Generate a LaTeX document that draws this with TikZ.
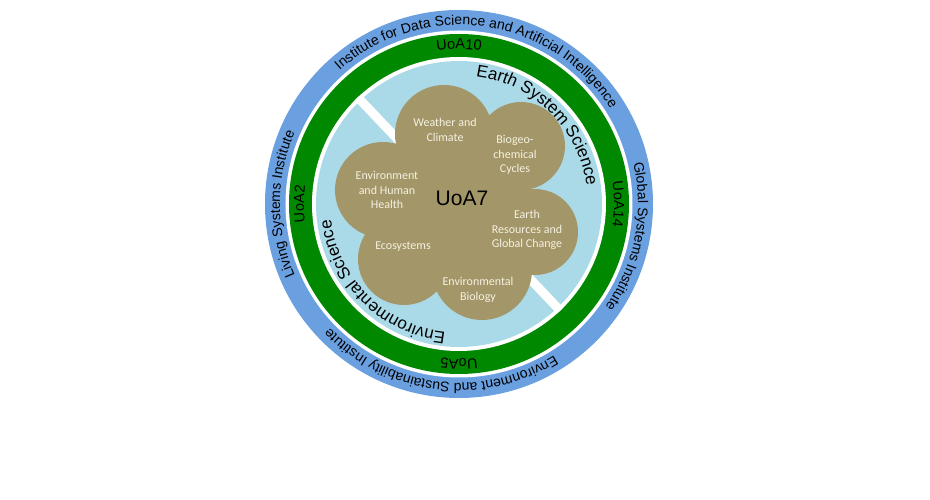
\documentclass[tikz,border=0pt]{standalone}
\usepackage{fontspec}
\newfontfamily\arialf{Liberation Sans}
\newfontfamily\carlf{Carlito}
\usetikzlibrary{decorations.text}
\definecolor{ringblue}{RGB}{106,160,224}
\definecolor{ringgreen}{RGB}{0,136,0}
\definecolor{lightbl}{RGB}{170,218,232}
\definecolor{cloudc}{RGB}{163,150,104}
\definecolor{creamc}{RGB}{245,241,226}
\newcommand\ringtext[4]{%
  \path[decorate,decoration={text along path,text align=center,
    text={|\arialf\fontsize{#3}{#3}\selectfont|#4}}]
    (#1+80:#2) arc[start angle=#1+80, end angle=#1-80, radius=#2];}
\begin{document}
\begin{tikzpicture}[x=1pt,y=1pt,
  topic/.style={text=creamc, font=\carlf\fontsize{12}{14.5}\selectfont, align=center, inner sep=0pt},
  hub/.style={text=black, font=\arialf\fontsize{21}{24}\selectfont, inner sep=0pt}]
\useasboundingbox (-459,-296) rectangle (471,204);
\fill[white] (-459,-296) rectangle (471,204);
% rings
\fill[ringblue] (0,0) circle (194);
\fill[white] (0,0) circle (173.5);
\fill[ringgreen] (0,0) circle (170);
\fill[white] (0,0) circle (147);
\fill[lightbl] (0,0) circle (143);
% white divider
\draw[white, line width=9] (133.5:147) -- (-46.5:147);
% cloud
\fill[cloudc] (-15,70) circle (49) (62,58) circle (44) (76,-28) circle (43)
  (23,-66) circle (50) (-55,-55) circle (46) (-76,14) circle (48) (0,0) circle (72);
% ring texts
\ringtext{82}{179}{14}{Institute for Data Science and Artificial Intelligence}
\ringtext{-11}{179}{14}{Global Systems Institute}
\ringtext{-97}{179}{14}{Environment and Sustainability Institute}
\ringtext{180}{179}{14}{Living Systems Institute}
\ringtext{90}{155}{14.5}{UoA10}
\ringtext{0}{155}{14.5}{UoA14}
\ringtext{-90}{155}{14.5}{UoA5}
\ringtext{180}{155}{14.5}{UoA2}
\ringtext{45.3}{129}{17}{Earth System Science}
\ringtext{-134.5}{129}{17}{Environmental Science}
% cloud texts
\node[topic] (wc) at (-14,74) {Weather and\\Climate};
\node[topic] (bc) at (56,49) {Biogeo-\\chemical\\Cycles};
\node[topic] (eh) at (-72,14) {Environment\\and Human\\Health};
\node[hub] (uoa7) at (3,6) {UoA7};
\node[topic] (er) at (68,-26) {Earth\\Resources and\\Global Change};
\node[topic] (ec) at (-56,-43) {Ecosystems};
\node[topic] (eb) at (19,-86) {Environmental\\Biology};
\end{tikzpicture}
\end{document}
